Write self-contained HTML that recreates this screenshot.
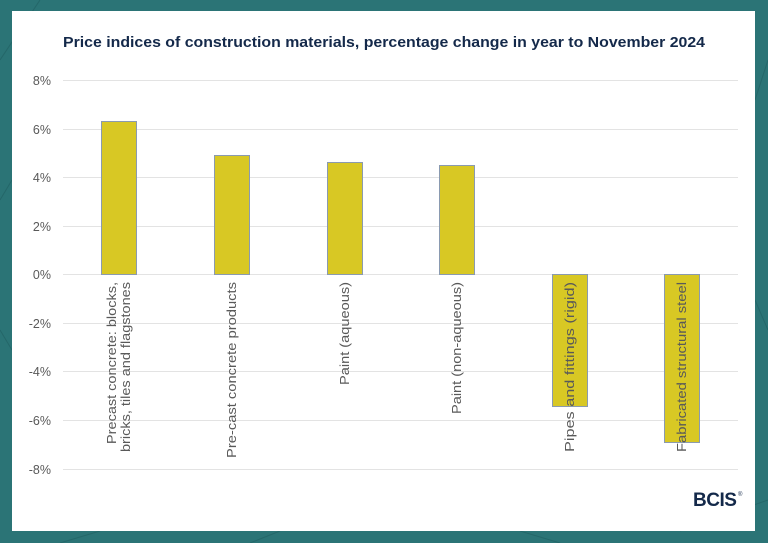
<!DOCTYPE html>
<html><head><style>
html,body{margin:0;padding:0;width:768px;height:543px;overflow:hidden;background:#2a7476;}
</style></head><body>
<svg width="768" height="543" xmlns="http://www.w3.org/2000/svg" font-family="Liberation Sans, sans-serif">
<rect width="768" height="543" fill="#2b7476"/>
<g stroke="#236466" stroke-width="1" fill="none" opacity="0.8">
<path d="M0 60 L40 0 M0 200 L12 180 M0 330 L12 350 M755 100 L768 60 M755 300 L768 330 M60 543 L100 531 M250 543 L280 531 M520 531 L560 543 M680 531 L768 500"/>
</g>
<rect x="12" y="11" width="743" height="520" fill="#ffffff"/>
<text x="63" y="47" font-size="14.5" font-weight="bold" fill="#14294a" textLength="642" lengthAdjust="spacingAndGlyphs">Price indices of construction materials, percentage change in year to November 2024</text>
<g stroke="#e3e3e3" stroke-width="1">
<line x1="63" x2="738" y1="80.5" y2="80.5"/>
<line x1="63" x2="738" y1="129.5" y2="129.5"/>
<line x1="63" x2="738" y1="177.5" y2="177.5"/>
<line x1="63" x2="738" y1="226.5" y2="226.5"/>
<line x1="63" x2="738" y1="274.5" y2="274.5"/>
<line x1="63" x2="738" y1="323.5" y2="323.5"/>
<line x1="63" x2="738" y1="371.5" y2="371.5"/>
<line x1="63" x2="738" y1="420.5" y2="420.5"/>
<line x1="63" x2="738" y1="469.5" y2="469.5"/>
</g>
<g font-size="12.5" fill="#595959" text-anchor="end">
<text x="51" y="85">8%</text><text x="51" y="134">6%</text><text x="51" y="182">4%</text><text x="51" y="231">2%</text><text x="51" y="279">0%</text><text x="51" y="328">-2%</text><text x="51" y="376">-4%</text><text x="51" y="425">-6%</text><text x="51" y="474">-8%</text>
</g>
<g fill="#d8c824" stroke="#8a9ab0" stroke-width="1">
<rect x="101.5" y="121.5" width="35" height="153"/>
<rect x="214.5" y="155.5" width="35" height="119"/>
<rect x="327.5" y="162.5" width="35" height="112"/>
<rect x="439.5" y="165.5" width="35" height="109"/>
<rect x="552.5" y="274.5" width="35" height="132"/>
<rect x="664.5" y="274.5" width="35" height="168"/>
</g>
<g font-size="12.5" fill="#595959" text-anchor="end">
<text transform="translate(116,282) rotate(-90)" textLength="162" lengthAdjust="spacingAndGlyphs">Precast concrete: blocks,</text>
<text transform="translate(130,282) rotate(-90)" textLength="170" lengthAdjust="spacingAndGlyphs">bricks, tiles and flagstones</text>
<text transform="translate(236,282) rotate(-90)" textLength="176" lengthAdjust="spacingAndGlyphs">Pre-cast concrete products</text>
<text transform="translate(349,282) rotate(-90)" textLength="103" lengthAdjust="spacingAndGlyphs">Paint (aqueous)</text>
<text transform="translate(461,282) rotate(-90)" textLength="132" lengthAdjust="spacingAndGlyphs">Paint (non-aqueous)</text>
<text transform="translate(574,282) rotate(-90)" textLength="170" lengthAdjust="spacingAndGlyphs">Pipes and fittings (rigid)</text>
<text transform="translate(686,282) rotate(-90)" textLength="170" lengthAdjust="spacingAndGlyphs">Fabricated structural steel</text>
</g>
<text x="693" y="506" font-size="19" font-weight="bold" fill="#14294a" letter-spacing="-0.5">BCIS</text>
<text x="738" y="496" font-size="6" fill="#14294a">®</text>
</svg>
</body></html>
